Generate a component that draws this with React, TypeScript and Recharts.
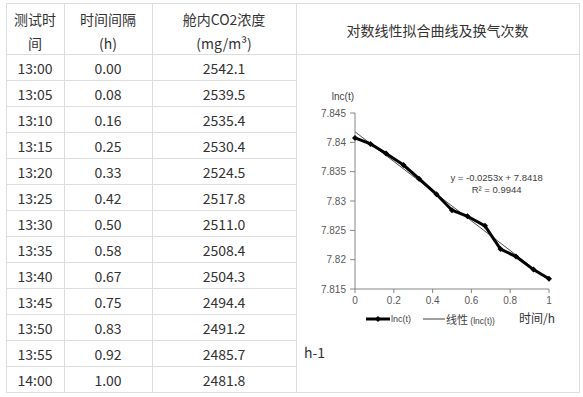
import React from 'react';
import { LineChart, Line, XAxis, YAxis, Legend, ReferenceDot } from 'recharts';

const times = ['13:00', '13:05', '13:10', '13:15', '13:20', '13:25', '13:30', '13:35', '13:40', '13:45', '13:50', '13:55', '14:00'];
const hourLabels = ['0.00', '0.08', '0.16', '0.25', '0.33', '0.42', '0.50', '0.58', '0.67', '0.75', '0.83', '0.92', '1.00'];
const hours = [0, 0.08, 0.16, 0.25, 0.33, 0.42, 0.5, 0.58, 0.67, 0.75, 0.83, 0.92, 1];
const concentrations = ['2542.1', '2539.5', '2535.4', '2530.4', '2524.5', '2517.8', '2511.0', '2508.4', '2504.3', '2494.4', '2491.2', '2485.7', '2481.8'];
const lnc = [7.840746, 7.839722, 7.838107, 7.836133, 7.833798, 7.831141, 7.828436, 7.8274, 7.825765, 7.821804, 7.82052, 7.81831, 7.81674];
const fitX = [0, 1];
const fitY = [7.8418, 7.8165];
const xTicks = [0, 0.2, 0.4, 0.6, 0.8, 1];
const yTicks = [7.815, 7.82, 7.825, 7.83, 7.835, 7.84, 7.845];
const headers = [['测试时', '间'], ['时间间隔', '(h)'], ['舱内CO2浓度', '(mg/m³)']];
const chartTitle = '对数线性拟合曲线及换气次数';
const equationText = 'y = -0.0253x + 7.8418';
const r2Text = 'R² = 0.9944';

const chartData = hours.map((h, i) => ({ t: h, lnc: lnc[i] }));
const fitData = fitX.map((x, i) => ({ t: x, fit: fitY[i] }));

const colX = [6, 64, 152, 296, 579];
const tableTop = 3;
const headerBottom = 54;
const rowH = 26;
const tableBottom = 392;
const lineColor = '#dddddd';
const textColor = '#333333';
const cjk = '"Noto Sans CJK SC", "Noto Sans", sans-serif';
const chartFont = '"Liberation Sans", Arial, sans-serif';

const Diamond = (props: any) => {
  const { cx, cy } = props;
  if (cx == null || cy == null) return null;
  const s = 3;
  return <polygon points={`${cx},${cy - s} ${cx + s},${cy} ${cx},${cy + s} ${cx - s},${cy}`} fill="#000" stroke="none" />;
};

const LegendContent = () => (
  <div style={{ height: 20, display: 'flex', alignItems: 'center', paddingLeft: 66, fontFamily: chartFont, color: '#404040' }}>
    <svg width={24} height={10} style={{ display: 'block' }}>
      <line x1={0} y1={5} x2={24} y2={5} stroke="#000" strokeWidth={3} />
      <polygon points="12,2 15,5 12,8 9,5" fill="#000" />
    </svg>
    <span style={{ fontSize: 9, marginLeft: 1 }}>lnc(t)</span>
    <svg width={22} height={10} style={{ display: 'block', marginLeft: 12 }}>
      <line x1={0} y1={5} x2={22} y2={5} stroke="#404040" strokeWidth={1} />
    </svg>
    <span style={{ marginLeft: 1, whiteSpace: 'nowrap' }}>
      <span style={{ fontSize: 11, fontFamily: cjk }}>线性</span>
      <span style={{ fontSize: 8.5 }}> (lnc(t))</span>
    </span>
  </div>
);

const XLabel = (props: any) => {
  const vb = props.viewBox || {};
  return (
    <text x={vb.x + vb.width + 6} y={vb.y + vb.height + 14} textAnchor="end" fontSize={12} fontFamily={cjk} fill="#333">
      时间/h
    </text>
  );
};

const YLabel = (props: any) => {
  const vb = props.viewBox || {};
  return (
    <text x={vb.x + vb.width - 1} y={vb.y - 13} textAnchor="end" fontSize={10} fontFamily={chartFont} fill="#404040">
      lnc(t)
    </text>
  );
};

const EquationLabel = (props: any) => {
  const vb = props.viewBox || {};
  const cx = vb.x + (vb.width || 0) / 2;
  const cy = vb.y + (vb.height || 0) / 2;
  return (
    <text x={cx} y={cy} textAnchor="middle" fontSize={9.5} fontFamily={chartFont} fill="#404040">
      <tspan x={cx} dy={-3}>{equationText}</tspan>
      <tspan x={cx} dy={12.5}>{r2Text}</tspan>
    </text>
  );
};

export default function App() {
  const hLines: React.ReactNode[] = [];
  hLines.push(<div key="top" style={{ position: 'absolute', left: colX[0], top: tableTop, width: colX[4] - colX[0] + 1, height: 1, background: lineColor }} />);
  hLines.push(<div key="hb" style={{ position: 'absolute', left: colX[0], top: headerBottom, width: colX[4] - colX[0] + 1, height: 1, background: lineColor }} />);
  for (let i = 1; i < times.length; i++) {
    hLines.push(<div key={'r' + i} style={{ position: 'absolute', left: colX[0], top: headerBottom + rowH * i, width: colX[3] - colX[0], height: 1, background: lineColor }} />);
  }
  hLines.push(<div key="bot" style={{ position: 'absolute', left: colX[0], top: tableBottom, width: colX[4] - colX[0] + 1, height: 1, background: lineColor }} />);
  const vLines = colX.map((x, i) => (
    <div key={'v' + i} style={{ position: 'absolute', left: x, top: tableTop, width: 1, height: tableBottom - tableTop + 1, background: lineColor }} />
  ));

  const headerCells = headers.map((lines, c) => (
    <div key={'h' + c} style={{ position: 'absolute', left: colX[c], top: 7, width: colX[c + 1] - colX[c], textAlign: 'center', lineHeight: '24px', fontSize: 14 }}>
      {lines.map((l, k) => (
        <div key={k}>{l}</div>
      ))}
    </div>
  ));

  const columns = [times, hourLabels, concentrations];
  const bodyCells: React.ReactNode[] = [];
  columns.forEach((col, c) => {
    col.forEach((v, r) => {
      bodyCells.push(
        <div key={`c${c}-${r}`} style={{ position: 'absolute', left: colX[c], top: headerBottom + rowH * r + 1, width: colX[c + 1] - colX[c], height: rowH, lineHeight: rowH + 'px', textAlign: 'center', fontSize: 14 }}>
          {v}
        </div>
      );
    });
  });

  return (
    <div style={{ position: 'absolute', left: 0, top: 0, width: 583, height: 397, background: '#fff', fontFamily: cjk, color: textColor, overflow: 'hidden' }}>
      {hLines}
      {vLines}
      {headerCells}
      {bodyCells}
      <div style={{ position: 'absolute', left: colX[3], top: 5, width: colX[4] - colX[3], height: 50, lineHeight: '50px', textAlign: 'center', fontSize: 14 }}>
        {chartTitle}
      </div>
      <div style={{ position: 'absolute', left: 304, top: 340, height: 24, lineHeight: '24px', fontSize: 14, color: '#333' }}>h-1</div>
      <div style={{ position: 'absolute', left: 300, top: 80 }}>
        <LineChart width={283} height={250} margin={{ top: 33, right: 34, bottom: 1, left: 25 }}>
          <XAxis
            dataKey="t"
            type="number"
            domain={[0, 1]}
            ticks={xTicks}
            allowDuplicatedCategory={false}
            height={20}
            tickSize={4}
            tickMargin={4}
            stroke="#868686"
            tick={{ fill: '#595959', fontSize: 10, fontFamily: chartFont }}
            label={<XLabel />}
          />
          <YAxis
            type="number"
            domain={[7.815, 7.845]}
            ticks={yTicks}
            width={30}
            tickSize={5}
            tickMargin={4}
            stroke="#868686"
            tick={{ fill: '#595959', fontSize: 10, fontFamily: chartFont }}
            tickFormatter={(v: number) => String(v)}
            label={<YLabel />}
          />
          <Legend verticalAlign="bottom" wrapperStyle={{ left: 0, width: 283 }} content={<LegendContent />} />
          <Line data={fitData} dataKey="fit" stroke="#505050" strokeWidth={1} dot={false} isAnimationActive={false} legendType="none" />
          <Line data={chartData} dataKey="lnc" stroke="#000" strokeWidth={3} dot={<Diamond />} activeDot={false} isAnimationActive={false} />
          <ReferenceDot x={0.73} y={7.8329} r={0} fill="none" stroke="none" label={<EquationLabel />} />
        </LineChart>
      </div>
    </div>
  );
}
